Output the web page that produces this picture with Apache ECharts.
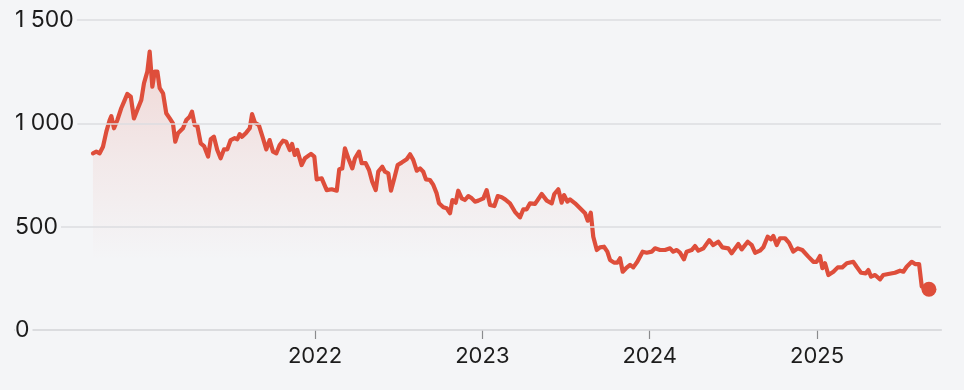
<!DOCTYPE html>
<html>
<head>
<meta charset="utf-8">
<script src="https://cdn.jsdelivr.net/npm/echarts@6/dist/echarts.min.js"></script>
<style>
html,body{margin:0;padding:0;background:#f4f5f7;}
#chart{width:964px;height:390px;}
</style>
</head>
<body>
<div id="chart"></div>
<script>
// decimal years (time) and values
const years = [
2020.673,2020.693,2020.713,2020.733,2020.753,2020.773,2020.783,2020.799,2020.819,2020.842,
2020.859,2020.878,2020.899,2020.918,2020.942,2020.962,2020.978,2020.998,2021.012,2021.028,
2021.042,2021.058,2021.072,2021.092,2021.111,2021.132,2021.151,2021.165,2021.181,2021.211,
2021.231,2021.251,2021.265,2021.281,2021.297,2021.317,2021.337,2021.361,2021.377,2021.396,
2021.416,2021.436,2021.456,2021.476,2021.496,2021.520,2021.536,2021.550,2021.564,2021.589,
2021.610,2021.624,2021.641,2021.664,2021.689,2021.709,2021.729,2021.749,2021.769,2021.789,
2021.809,2021.828,2021.849,2021.863,2021.879,2021.894,2021.920,2021.940,2021.976,2021.996,
2022.010,2022.040,2022.070,2022.100,2022.130,2022.145,2022.163,2022.179,2022.199,2022.223,
2022.239,2022.263,2022.279,2022.303,2022.323,2022.342,2022.363,2022.378,2022.402,2022.418,
2022.438,2022.454,2022.474,2022.494,2022.518,2022.548,2022.568,2022.587,2022.608,2022.628,
2022.647,2022.663,2022.687,2022.707,2022.727,2022.741,2022.767,2022.787,2022.807,2022.821,
2022.841,2022.856,2022.877,2022.896,2022.916,2022.937,2022.956,2022.976,2023.006,2023.026,
2023.046,2023.072,2023.092,2023.116,2023.136,2023.165,2023.195,2023.225,2023.245,2023.265,
2023.285,2023.315,2023.355,2023.385,2023.415,2023.430,2023.454,2023.474,2023.488,2023.508,
2023.524,2023.554,2023.584,2023.614,2023.630,2023.648,2023.663,2023.684,2023.703,2023.727,
2023.747,2023.763,2023.787,2023.807,2023.823,2023.839,2023.859,2023.883,2023.902,2023.926,
2023.958,2023.982,2024.012,2024.032,2024.062,2024.092,2024.122,2024.141,2024.162,2024.181,
2024.205,2024.221,2024.251,2024.271,2024.291,2024.321,2024.356,2024.380,2024.410,2024.434,
2024.470,2024.490,2024.530,2024.550,2024.586,2024.610,2024.630,2024.659,2024.679,2024.705,
2024.725,2024.739,2024.759,2024.779,2024.809,2024.833,2024.858,2024.885,2024.912,2024.948,
2024.978,2024.998,2025.018,2025.032,2025.048,2025.068,2025.098,2025.124,2025.151,2025.178,
2025.217,2025.237,2025.263,2025.291,2025.307,2025.323,2025.347,2025.377,2025.396,2025.426,
2025.466,2025.496,2025.516,2025.536,2025.566,2025.586,2025.610,2025.626,2025.650,2025.669
];
const values = [
855,863,855,887,960,1016,1035,976,1016,1073,
1105,1142,1129,1024,1073,1113,1194,1250,1347,1177,
1250,1250,1170,1145,1049,1024,1000,911,952,976,
1016,1032,1056,992,987,903,890,839,923,935,
871,831,874,874,919,928,923,948,935,955,
976,1045,1003,992,928,874,919,863,855,895,
916,911,871,900,847,871,798,831,852,839,
729,734,677,681,674,778,782,879,831,782,
831,863,807,807,774,718,677,766,790,766,
758,674,734,798,810,826,850,823,771,782,
766,729,726,702,661,613,594,589,565,629,
616,674,637,629,648,637,621,626,637,677,
605,600,648,642,632,613,572,545,584,584,
613,610,658,626,613,658,681,616,653,621,
632,613,589,565,529,568,451,387,400,403,
379,339,326,326,347,282,299,315,303,330,
379,374,379,395,387,387,395,379,387,374,
342,379,387,406,384,395,435,411,427,400,
395,371,416,390,427,411,374,384,400,451,
439,455,411,444,444,422,379,395,387,355,
330,330,358,299,323,266,282,303,303,323,
330,306,277,274,290,258,266,245,266,271,
277,287,282,306,330,319,319,210,202,197
];
const xTickValues = [2022, 2023, 2024, 2025];
const xTickLabels = ['2022', '2023', '2024', '2025'];
const yTicks = [0, 500, 1000, 1500];
const yTickLabels = ['0', '500', '1 000', '1 500'];

const lineColor = '#de4e3b';
const pts = years.map((y, i) => [y, values[i]]);
const last = pts[pts.length - 1];

const chart = echarts.init(document.getElementById('chart'), null, {renderer: 'canvas'});
chart.setOption({
  backgroundColor: '#f4f5f7',
  animation: false,
  grid: {left: 15, right: 23, top: 20, bottom: 60},
  xAxis: {
    type: 'value',
    min: 2020.2072,
    max: 2025.741,
    axisLine: {show: true, lineStyle: {color: '#d8d9dc', width: 2}},
    axisTick: {show: true, customValues: xTickValues, length: 9, lineStyle: {color: '#8a8b8e', width: 1.2}},
    axisLabel: {
      customValues: xTickValues,
      formatter: v => xTickLabels[xTickValues.indexOf(Math.round(v))] || '',
      color: '#1c1c1c', fontFamily: 'Inter', fontSize: 22, margin: 15
    },
    splitLine: {show: false}
  },
  yAxis: {
    type: 'value',
    min: 0, max: 1500, interval: 500,
    axisLine: {show: false},
    axisTick: {show: false},
    axisLabel: {
      inside: true,
      margin: 0,
      formatter: v => yTickLabels[yTicks.indexOf(v)],
      color: '#1c1c1c', fontFamily: 'Inter', fontSize: 23,
      backgroundColor: '#f4f5f7',
      padding: [2, 3, 2, 0]
    },
    splitLine: {show: true, lineStyle: {color: '#dcdde0', width: 1.5}},
    z: 5
  },
  series: [{
    type: 'line',
    data: pts,
    showSymbol: false,
    lineStyle: {color: lineColor, width: 4.2, join: 'round', cap: 'round'},
    areaStyle: {
      origin: 'start',
      color: new echarts.graphic.LinearGradient(0, 0, 0, 1, [
        {offset: 0, color: 'rgba(222,78,59,0.26)'},
        {offset: 0.4, color: 'rgba(222,78,59,0.10)'},
        {offset: 0.75, color: 'rgba(222,78,59,0)'}
      ])
    },
    z: 2
  }, {
    type: 'scatter',
    data: [last],
    symbolSize: 15,
    itemStyle: {color: lineColor, opacity: 1},
    z: 3
  }]
});
</script>
</body>
</html>
